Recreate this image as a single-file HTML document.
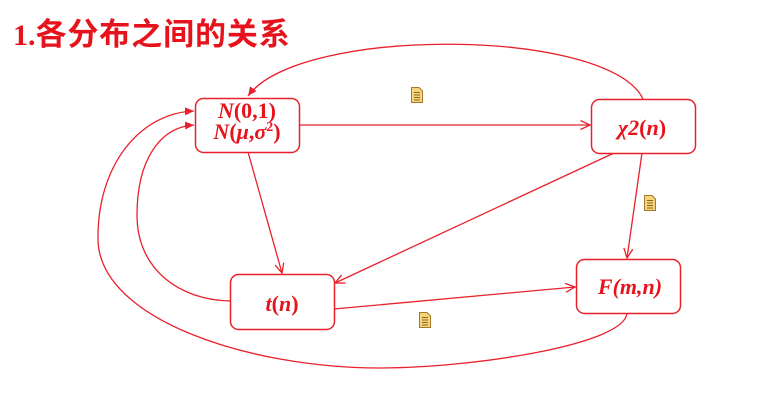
<!DOCTYPE html>
<html><head><meta charset="utf-8">
<style>
html,body{margin:0;padding:0;background:#fff;}
body{width:767px;height:419px;overflow:hidden;}
svg{display:block;}
</style></head>
<body>
<svg width="767" height="419" viewBox="0 0 767 419" xmlns="http://www.w3.org/2000/svg">
<defs>
  <marker id="open" markerUnits="userSpaceOnUse" markerWidth="12" markerHeight="12" refX="10" refY="5" orient="auto">
    <path d="M0.5,0.5 L10,5 L0.5,9.5" fill="none" stroke="#e8212b" stroke-width="1.3"/>
  </marker>
  <marker id="fill" markerUnits="userSpaceOnUse" markerWidth="12" markerHeight="12" refX="9" refY="4" orient="auto">
    <path d="M0,0 L9,4 L0,8 z" fill="#e8212b"/>
  </marker>
  <g id="note">
    <path d="M0.5,0.5 H8 L11.5,4 V15.5 H0.5 Z" fill="#f6d67a" stroke="#a8772a" stroke-width="1"/>
    <path d="M3,5.5 H9 M3,8 H9 M3,10.5 H9 M3,13 H9" stroke="#8a6420" stroke-width="0.9"/>
  </g>
</defs>

<!-- title -->
<text x="13" y="45" fill="#e6131d" font-family="Liberation Serif, serif" font-weight="bold" font-size="30">1.<tspan font-family="Noto Sans CJK SC, WenQuanYi Zen Hei, sans-serif" font-size="31" letter-spacing="0.9">各分布之间的关系</tspan></text>

<g fill="none" stroke="#e8212b" stroke-width="1.3">
  <!-- straight connectors -->
  <path d="M299,125 L590,125" marker-end="url(#open)"/>
  <path d="M248,152 L282,273" marker-end="url(#open)"/>
  <path d="M614,153 L335,283" marker-end="url(#open)"/>
  <path d="M642,153 L627,258" marker-end="url(#open)"/>
  <path d="M334,309 L575,287" marker-end="url(#open)"/>
  <!-- curves -->
  <path d="M643,99 C610,28 300,25 248,96" marker-end="url(#fill)"/>
  <path d="M230,301 C180,300 137,270 137,215 C137,160 160,127 194,125" marker-end="url(#fill)"/>
  <path d="M627,313 C625,345 470,368 380,368 C250,368 100,320 98,240 C97,165 140,113 194,111" marker-end="url(#fill)"/>
</g>

<!-- boxes -->
<g fill="#fff" stroke="#e8212b" stroke-width="1.5">
  <rect x="195.5" y="98.5" width="104" height="54" rx="8"/>
  <rect x="591.5" y="99.5" width="104" height="54" rx="8"/>
  <rect x="230.5" y="274.5" width="104" height="55" rx="8"/>
  <rect x="576.5" y="259.5" width="104" height="54" rx="8"/>
</g>

<g fill="#e6131d" font-family="Liberation Serif, serif" font-weight="bold" font-size="22" text-anchor="middle">
  <text x="247" y="118"><tspan font-style="italic">N</tspan>(0,1)</text>
  <text x="247" y="139"><tspan font-style="italic">N</tspan>(<tspan font-style="italic">μ</tspan>,<tspan font-style="italic">σ</tspan><tspan font-size="14" dy="-8">2</tspan><tspan dy="8">)</tspan></text>
  <text x="642" y="135"><tspan font-style="italic">χ2</tspan>(<tspan font-style="italic">n</tspan>)</text>
  <text x="282" y="311"><tspan font-style="italic">t</tspan>(<tspan font-style="italic">n</tspan>)</text>
  <text x="630" y="294" font-style="italic">F(m,n)</text>
</g>

<!-- note icons -->
<use href="#note" x="411" y="87"/>
<use href="#note" x="644" y="195"/>
<use href="#note" x="419" y="312"/>
</svg>
</body></html>
